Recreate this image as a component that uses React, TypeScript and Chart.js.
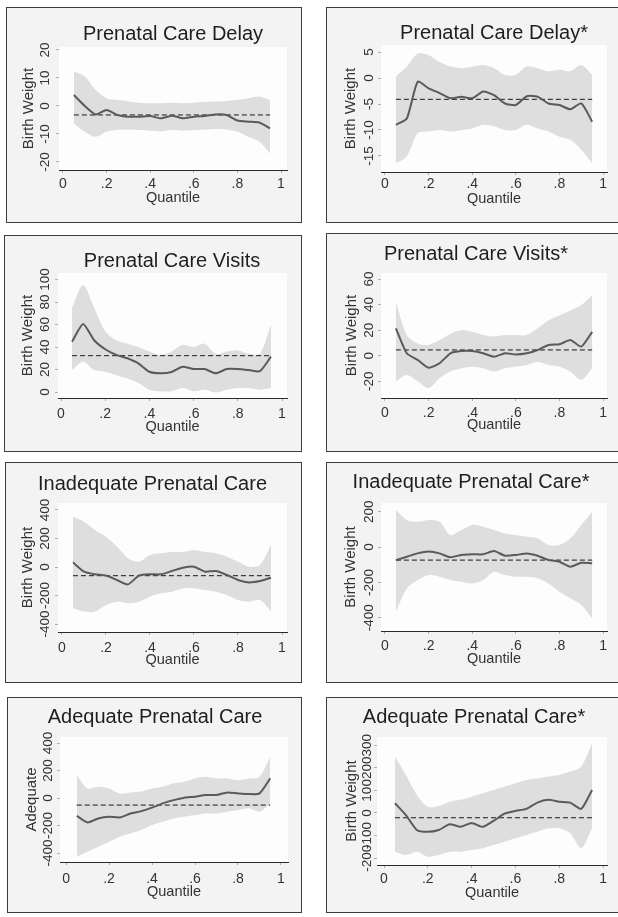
import React, { useEffect, useRef } from "react";
import { Chart, registerables } from "chart.js";
Chart.register(...registerables);

const FONT = '"Liberation Sans", Arial, Helvetica, sans-serif';

// ---------- data ----------
const quantiles = [0.05, 0.1, 0.15, 0.2, 0.25, 0.3, 0.35, 0.4, 0.45, 0.5, 0.55, 0.6, 0.65, 0.7, 0.75, 0.8, 0.85, 0.9, 0.95];
const xTickValues = [0, 0.2, 0.4, 0.6, 0.8, 1];
const xTickLabels = ["0", ".2", ".4", ".6", ".8", "1"];

// Prenatal Care Delay
const delayEst = [3.9, 0, -3, -1.4, -3.2, -3.8, -3.8, -3.6, -4.4, -3.5, -4.4, -3.8, -3.6, -3, -3.2, -5.2, -5.6, -5.9, -8];
const delayUpper = [12.3, 10.5, 5.7, 2.8, 2.2, 1.6, 1.2, 1.0, 1.0, 1.2, 1.0, 1.2, 1.4, 1.6, 1.8, 2.2, 2.8, 3.4, 2.2];
const delayLower = [-6.2, -9.2, -11, -9.2, -8.6, -8.4, -8.6, -8.8, -9.0, -8.6, -8.8, -8.6, -8.4, -8.2, -8.4, -9.2, -11, -12.7, -17];
const delayMean = -3.2;
const delayYTicks = [-20, -10, 0, 10, 20];

// Prenatal Care Delay*
const delayBEst = [-9, -7.8, -0.7, -2, -2.9, -3.9, -3.6, -3.9, -2.6, -3.3, -4.9, -5.2, -3.5, -3.6, -4.9, -5.2, -6, -4.9, -8.4];
const delayBUpper = [0.3, 2.2, 4.7, 4.4, 3.1, 2.2, 1.9, 2.2, 2.5, 1.9, 0.6, 0.6, 2.2, 1.9, 1.3, 1.6, 1.3, 2.5, 0.6];
const delayBLower = [-16.4, -15.1, -10.6, -10.3, -10, -10.3, -10, -9.7, -9, -9.3, -10, -10, -9, -9.7, -10.3, -11.3, -11.9, -13.8, -16.4];
const delayBMean = -4.1;
const delayBYTicks = [-15, -10, -5, 0, 5];

// Prenatal Care Visits
const visitsEst = [44.7, 60.4, 46, 38, 33, 30, 25.5, 18, 16.6, 17.8, 22.5, 20.4, 20.4, 16.6, 20.4, 20.4, 19.5, 18.5, 31.4];
const visitsUpper = [75, 95, 75, 54, 46, 43, 40, 36, 33, 36, 42, 40, 43, 34, 36, 37, 34, 34, 60];
const visitsLower = [19.5, 27, 19.5, 18, 15, 12, 8, 2, 0.6, 0.6, 3.5, 0.6, 2, -0.5, 2, 3.5, 3.5, 2, 3.5];
const visitsMean = 32.3;
const visitsYTicks = [0, 20, 40, 60, 80, 100];

// Prenatal Care Visits*
const visitsBEst = [21.4, 1.9, -3.3, -9.4, -5.9, 1.9, 3.6, 3.6, 1.9, -0.8, 1.9, 1, 1.9, 4.4, 8.4, 8.9, 12.2, 7.1, 18.7];
const visitsBUpper = [42, 16.2, 9.5, 8.4, 12.2, 17.2, 20, 18.7, 16.2, 15, 16.2, 16.2, 16.2, 21.4, 27.7, 31.5, 35.3, 39.6, 47.3];
const visitsBLower = [-20, -15.1, -20, -25.5, -17.7, -12.4, -9.8, -8.6, -9.8, -12.4, -9.8, -8.6, -7.3, -4.7, -7.3, -8.6, -12.4, -18.9, -9.8];
const visitsBMean = 4.5;
const visitsBYTicks = [-20, 0, 20, 40, 60];

// Inadequate Prenatal Care
const inadEst = [33, -33, -51, -60, -91, -122, -60, -51, -51, -28, -5, 2, -33, -28, -56, -91, -108, -98, -75];
const inadUpper = [353, 318, 260, 213, 143, 61, 37, 84, 96, 105, 105, 119, 105, 96, 72, 37, 2, 14, 154];
const inadLower = [-290, -313, -313, -267, -243, -255, -243, -208, -185, -173, -150, -150, -161, -173, -197, -232, -243, -232, -313];
const inadMean = -61;
const inadYTicks = [-400, -200, 0, 200, 400];

// Inadequate Prenatal Care*
const inadBEst = [-74, -55, -36, -26, -36, -58, -45, -41, -41, -23, -49, -45, -36, -49, -74, -83, -111, -89, -92];
const inadBUpper = [209, 153, 143, 153, 143, 68, 96, 125, 115, 96, 77, 68, 58, 49, 11, 11, 49, 125, 200];
const inadBLower = [-366, -234, -187, -158, -168, -187, -196, -206, -187, -140, -158, -168, -168, -177, -206, -253, -290, -328, -404];
const inadBMean = -74;
const inadBYTicks = [-400, -200, 0, 200];

// Adequate Prenatal Care
const adeqEst = [-129, -177, -148, -136, -141, -112, -95, -70, -39, -15, 3, 10, 22, 22, 41, 34, 29, 34, 143];
const adeqUpper = [167, 70, 82, 70, 34, 41, 48, 70, 82, 107, 119, 143, 155, 143, 143, 131, 143, 155, 300];
const adeqLower = [-427, -391, -354, -318, -281, -257, -233, -196, -172, -148, -136, -124, -112, -112, -99, -87, -75, -99, -39];
const adeqMean = -51;
const adeqYTicks = [-400, -200, 0, 200, 400];

// Adequate Prenatal Care*
const adeqBEst = [43, -9, -75, -83, -75, -50, -61, -44, -61, -35, -3, 9, 18, 46, 58, 50, 46, 18, 102];
const adeqBUpper = [249, 168, 80, 28, 31, 50, 58, 72, 87, 102, 116, 131, 146, 153, 161, 168, 183, 205, 308];
const adeqBLower = [-171, -186, -171, -193, -186, -171, -171, -164, -156, -142, -127, -112, -97, -83, -68, -68, -90, -156, -68];
const adeqBMean = -21;
const adeqBYTicks = [-200, -100, 0, 100, 200, 300];

// ---------- layout (page pixels) ----------
type Panel = {
  title: string; yTitle: string;
  est: number[]; upper: number[]; lower: number[]; mean: number; yTicks: number[];
  box: number[]; area: number[]; xr: number[]; yr: number[]; noRight?: boolean;
  titleX: number; titleBase: number; yLabX: number; yTitleX: number; xLabBase: number; xTitleBase: number;
};

const panels: Panel[] = [
  { title: "Prenatal Care Delay", yTitle: "Birth Weight", est: delayEst, upper: delayUpper, lower: delayLower, mean: delayMean, yTicks: delayYTicks,
    box: [6, 7, 302, 223], area: [59, 47, 287, 170], xr: [-0.0183, 1.0275], yr: [-22.86, 21.07],
    titleX: 173, titleBase: 40, yLabX: 45, yTitleX: 29, xLabBase: 188, xTitleBase: 202 },
  { title: "Prenatal Care Delay*", yTitle: "Birth Weight", est: delayBEst, upper: delayBUpper, lower: delayBLower, mean: delayBMean, yTicks: delayBYTicks,
    box: [326, 7, 618, 223], noRight: true, area: [381, 45, 607, 172], xr: [-0.0183, 1.018], yr: [-18.08, 6.35],
    titleX: 494, titleBase: 39, yLabX: 369, yTitleX: 351, xLabBase: 188, xTitleBase: 203 },
  { title: "Prenatal Care Visits", yTitle: "Birth Weight", est: visitsEst, upper: visitsUpper, lower: visitsLower, mean: visitsMean, yTicks: visitsYTicks,
    box: [4, 235, 302, 452], area: [58, 273, 287, 398], xr: [-0.0136, 1.0226], yr: [-5.33, 105.8],
    titleX: 172, titleBase: 267, yLabX: 45, yTitleX: 28, xLabBase: 418, xTitleBase: 431 },
  { title: "Prenatal Care Visits*", yTitle: "Birth Weight", est: visitsBEst, upper: visitsBUpper, lower: visitsBLower, mean: visitsBMean, yTicks: visitsBYTicks,
    box: [326, 233, 618, 452], noRight: true, area: [381, 273, 607, 398], xr: [-0.0183, 1.018], yr: [-33.1, 64.7],
    titleX: 476, titleBase: 260, yLabX: 369, yTitleX: 352, xLabBase: 417, xTitleBase: 429 },
  { title: "Inadequate Prenatal Care", yTitle: "Birth Weight", est: inadEst, upper: inadUpper, lower: inadLower, mean: inadMean, yTicks: inadYTicks,
    box: [5, 462, 302, 683], area: [58, 503, 287, 632], xr: [-0.018, 1.0227], yr: [-456, 449],
    titleX: 152.5, titleBase: 490, yLabX: 45, yTitleX: 28, xLabBase: 652, xTitleBase: 664 },
  { title: "Inadequate Prenatal Care*", yTitle: "Birth Weight", est: inadBEst, upper: inadBUpper, lower: inadBLower, mean: inadBMean, yTicks: inadBYTicks,
    box: [326, 462, 618, 683], noRight: true, area: [381, 503, 607, 631], xr: [-0.0183, 1.018], yr: [-475, 249],
    titleX: 471, titleBase: 488, yLabX: 369, yTitleX: 351, xLabBase: 650, xTitleBase: 663 },
  { title: "Adequate Prenatal Care", yTitle: "Adequate", est: adeqEst, upper: adeqUpper, lower: adeqLower, mean: adeqMean, yTicks: adeqYTicks,
    box: [7, 697, 302, 913], area: [60, 737, 288, 862], xr: [-0.028, 1.0326], yr: [-465, 444],
    titleX: 155, titleBase: 723, yLabX: 48, yTitleX: 32, xLabBase: 883, xTitleBase: 896 },
  { title: "Adequate Prenatal Care*", yTitle: "Birth Weight", est: adeqBEst, upper: adeqBUpper, lower: adeqBLower, mean: adeqBMean, yTicks: adeqBYTicks,
    box: [326, 697, 618, 913], noRight: true, area: [377, 737, 607, 865], xr: [-0.032, 1.018], yr: [-230, 336],
    titleX: 474, titleBase: 723, yLabX: 367, yTitleX: 352, xLabBase: 883, xTitleBase: 897 },
];

function PanelChart({ p }: { p: Panel }) {
  const ref = useRef<HTMLCanvasElement | null>(null);
  const [l, t, r, b] = p.box;
  const w = r - l;
  const h = b - t;
  const ox = l + 1;
  const oy = t + 1;
  const cw = w - (p.noRight ? 1 : 2);
  const ch = h - 2;

  useEffect(() => {
    if (!ref.current) return;
    const toPts = (arr: number[]) => arr.map((v, i) => ({ x: quantiles[i], y: v }));
    const meanPts = [{ x: quantiles[0], y: p.mean }, { x: quantiles[quantiles.length - 1], y: p.mean }];

    const textPlugin = {
      id: "stataText",
      beforeDatasetsDraw(chart: any) {
        const { ctx, chartArea } = chart;
        ctx.save();
        ctx.fillStyle = "#fdfdfd";
        ctx.fillRect(chartArea.left, chartArea.top, chartArea.right - chartArea.left, chartArea.bottom - chartArea.top);
        ctx.restore();
      },
      afterDraw(chart: any) {
        const { ctx, chartArea, scales } = chart;
        ctx.save();
        ctx.fillStyle = "#1e1e1e";
        ctx.textAlign = "center";
        ctx.textBaseline = "alphabetic";
        ctx.font = `20px ${FONT}`;
        ctx.fillText(p.title, p.titleX - ox, p.titleBase - oy);

        ctx.fillStyle = "#333";
        ctx.font = `14px ${FONT}`;
        xTickValues.forEach((v, i) => {
          ctx.fillText(xTickLabels[i], scales.x.getPixelForValue(v), p.xLabBase - oy);
        });
        ctx.font = `14.5px ${FONT}`;
        ctx.fillText("Quantile", (chartArea.left + chartArea.right) / 2, p.xTitleBase - oy);

        // rotated y tick labels
        ctx.font = `13.5px ${FONT}`;
        ctx.textBaseline = "middle";
        p.yTicks.forEach((v) => {
          const y = scales.y.getPixelForValue(v);
          ctx.save();
          ctx.translate(p.yLabX - ox, y);
          ctx.rotate(-Math.PI / 2);
          ctx.fillText(String(v), 0, 0);
          ctx.restore();
        });
        // y title
        ctx.font = `15px ${FONT}`;
        ctx.save();
        ctx.translate(p.yTitleX - ox, (chartArea.top + chartArea.bottom) / 2);
        ctx.rotate(-Math.PI / 2);
        ctx.fillText(p.yTitle, 0, 0);
        ctx.restore();
        ctx.restore();
      },
    };

    const chart = new Chart(ref.current, {
      type: "line",
      data: {
        datasets: [
          {
            data: toPts(p.est),
            borderColor: "#5a5a5a",
            borderWidth: 2,
            pointRadius: 0,
            tension: 0.2,
            fill: false,
          },
          {
            data: meanPts,
            borderColor: "#1a1a1a",
            borderWidth: 1,
            borderDash: [5, 3],
            pointRadius: 0,
            fill: false,
          },
          {
            data: toPts(p.upper),
            borderWidth: 0,
            borderColor: "rgba(0,0,0,0)",
            backgroundColor: "#dedede",
            pointRadius: 0,
            tension: 0.3,
            fill: "+1",
          },
          {
            data: toPts(p.lower),
            borderWidth: 0,
            borderColor: "rgba(0,0,0,0)",
            backgroundColor: "#dedede",
            pointRadius: 0,
            tension: 0.3,
            fill: false,
          },
        ],
      },
      options: {
        responsive: false,
        animation: false,
        devicePixelRatio: 1,
        parsing: true,
        events: [],
        layout: {
          autoPadding: false,
          padding: {
            left: p.area[0] - ox,
            top: p.area[1] - oy,
            right: ox + cw - p.area[2],
            bottom: oy + ch - p.area[3],
          },
        },
        plugins: {
          legend: { display: false },
          tooltip: { enabled: false },
          title: { display: false },
        },
        scales: {
          x: {
            type: "linear",
            min: p.xr[0],
            max: p.xr[1],
            ticks: { display: false },
            grid: { display: true, drawOnChartArea: false, drawTicks: true, tickLength: 3, color: "#b0b0b0" },
            border: { display: true, color: "#2a2a2a", width: 1 },
            afterBuildTicks: (s: any) => { s.ticks = xTickValues.map((v) => ({ value: v })); },
            afterFit: (s: any) => { s.height = 0; },
          },
          y: {
            type: "linear",
            min: p.yr[0],
            max: p.yr[1],
            ticks: { display: false },
            grid: { display: true, drawOnChartArea: false, drawTicks: true, tickLength: 3, color: "#b0b0b0" },
            border: { display: true, color: "#2a2a2a", width: 1 },
            afterBuildTicks: (s: any) => { s.ticks = p.yTicks.map((v) => ({ value: v })); },
            afterFit: (s: any) => { s.width = 0; },
          },
        },
      },
      plugins: [textPlugin],
    } as any);
    return () => chart.destroy();
  }, [p]);

  return (
    <div
      style={{
        position: "absolute",
        left: l,
        top: t,
        width: w,
        height: h,
        boxSizing: "border-box",
        borderTop: "1px solid #3c3c3c",
        borderBottom: "1px solid #3c3c3c",
        borderLeft: "1px solid #3c3c3c",
        borderRight: p.noRight ? "none" : "1px solid #3c3c3c",
        background: "#f3f3f3",
      }}
    >
      <canvas ref={ref} width={cw} height={ch} style={{ display: "block", width: cw, height: ch }} />
    </div>
  );
}

export default function App() {
  return (
    <div style={{ position: "absolute", left: 0, top: 0, width: 618, height: 917, background: "#ffffff", overflow: "hidden" }}>
      {panels.map((p, i) => (
        <PanelChart key={i} p={p} />
      ))}
    </div>
  );
}
